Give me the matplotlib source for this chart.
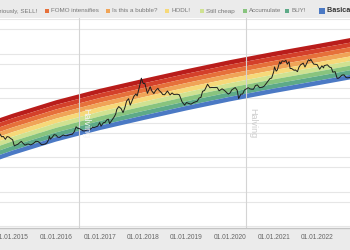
import matplotlib
matplotlib.use('Agg')
import matplotlib.pyplot as plt
import numpy as np
import matplotlib.dates as mdates
from matplotlib.patches import Rectangle
from matplotlib.ticker import FixedLocator, NullFormatter

plt.rcParams['font.family'] = ['Liberation Sans', 'DejaVu Sans']

# rainbow bands, top (red) to bottom (blue)
band_names = ['Maximum Bubble Territory', 'Sell. Seriously, SELL!', 'FOMO intensifies',
              'Is this a bubble?', 'HODL!', 'Still cheap', 'Accumulate', 'BUY!',
              'Basically a Fire Sale']
band_colors = ['#b91d1b', '#d4402a', '#e6703a', '#f0a457', '#f6d979',
               '#cfe291', '#88c47e', '#5daa88', '#4b79c4']

# outer edges of the rainbow (USD)
band_dates = np.array(['2014-09-17', '2015-01-01', '2016-01-01', '2017-01-01', '2018-01-01',
                       '2019-01-01', '2020-01-01', '2021-01-01', '2022-01-01', '2022-10-04'],
                      dtype='datetime64[D]')
band_top = [1350, 1800, 4420, 9440, 18400, 35100, 64500, 112000, 188000, 280000]
band_bottom = [85, 114, 280, 600, 1170, 2240, 4100, 7100, 11900, 17700]

# bitcoin price (USD)
price_dates = np.array([
    '2014-09-17', '2014-10-01', '2014-10-15', '2014-11-01', '2014-11-15', '2014-12-01', '2014-12-15',
    '2015-01-01', '2015-01-15', '2015-02-01', '2015-02-15', '2015-03-01', '2015-03-15', '2015-04-01',
    '2015-04-15', '2015-05-01', '2015-05-15', '2015-06-01', '2015-06-15', '2015-07-01', '2015-07-15',
    '2015-08-01', '2015-08-15', '2015-09-01', '2015-09-15', '2015-10-01', '2015-10-15', '2015-11-01',
    '2015-11-05', '2015-11-15', '2015-12-01', '2015-12-15',
    '2016-01-01', '2016-01-15', '2016-02-01', '2016-02-15', '2016-03-01', '2016-03-15', '2016-04-01',
    '2016-04-15', '2016-05-01', '2016-05-15', '2016-06-01', '2016-06-17', '2016-07-01', '2016-07-15',
    '2016-08-01', '2016-08-15', '2016-09-01', '2016-09-15', '2016-10-01', '2016-10-15', '2016-11-01',
    '2016-11-15', '2016-12-01', '2016-12-15',
    '2017-01-01', '2017-01-12', '2017-02-01', '2017-02-15', '2017-03-01', '2017-03-15', '2017-03-25',
    '2017-04-15', '2017-05-01', '2017-05-15', '2017-05-25', '2017-06-10', '2017-07-01', '2017-07-16',
    '2017-08-01', '2017-08-15', '2017-09-01', '2017-09-15', '2017-10-01', '2017-10-15', '2017-11-01',
    '2017-11-12', '2017-12-01', '2017-12-17',
    '2018-01-01', '2018-01-15', '2018-02-06', '2018-03-01', '2018-03-15', '2018-04-01', '2018-04-15',
    '2018-05-05', '2018-05-15', '2018-06-01', '2018-06-15', '2018-07-01', '2018-07-24', '2018-08-15',
    '2018-09-01', '2018-09-15', '2018-10-15', '2018-11-01', '2018-11-25', '2018-12-15',
    '2019-01-01', '2019-01-15', '2019-02-07', '2019-03-01', '2019-04-01', '2019-04-15', '2019-05-01',
    '2019-05-15', '2019-06-01', '2019-06-26', '2019-07-15', '2019-08-01', '2019-08-15', '2019-09-15',
    '2019-10-01', '2019-10-26', '2019-11-15', '2019-12-17',
    '2020-01-01', '2020-01-15', '2020-02-13', '2020-03-01', '2020-03-13', '2020-04-01', '2020-04-15',
    '2020-05-01', '2020-05-15', '2020-06-01', '2020-06-15', '2020-07-01', '2020-07-15', '2020-08-01',
    '2020-08-17', '2020-09-05', '2020-10-01', '2020-10-15', '2020-11-01', '2020-11-15', '2020-12-01',
    '2020-12-15',
    '2021-01-01', '2021-01-08', '2021-01-22', '2021-02-01', '2021-02-21', '2021-03-01', '2021-03-13',
    '2021-04-01', '2021-04-14', '2021-04-25', '2021-05-10', '2021-05-19', '2021-06-01', '2021-06-22',
    '2021-07-01', '2021-07-20', '2021-08-01', '2021-08-15', '2021-09-06', '2021-09-21', '2021-10-01',
    '2021-10-20', '2021-11-01', '2021-11-09', '2021-11-26', '2021-12-04', '2021-12-15',
    '2022-01-01', '2022-01-22', '2022-02-10', '2022-02-24', '2022-03-01', '2022-03-28', '2022-04-15',
    '2022-05-01', '2022-05-12', '2022-06-01', '2022-06-18', '2022-07-01', '2022-07-30', '2022-08-15',
    '2022-09-01', '2022-09-15', '2022-10-04'], dtype='datetime64[D]')
price_values = [
    460, 385, 395, 325, 390, 380, 345,
    315, 210, 225, 235, 260, 285, 245,
    220, 235, 237, 225, 235, 258, 285,
    282, 260, 228, 230, 238, 255, 325,
    400, 330, 378, 445,
    432, 375, 372, 405, 435, 415, 416,
    430, 450, 455, 535, 750, 675, 665,
    610, 570, 572, 607, 615, 640, 730,
    712, 753, 780,
    998, 780, 985, 1010, 1190, 1250, 930,
    1180, 1420, 1740, 2400, 2900, 2500, 1930,
    2730, 4180, 4900, 3200, 4400, 5700, 6750,
    5900, 10900, 19300,
    13500, 13600, 7000, 10900, 8200, 6900, 8350,
    9800, 8500, 7500, 6450, 6390, 8200, 6300,
    7200, 6500, 6600, 6350, 3900, 3200,
    3800, 3600, 3400, 3800, 4150, 5100, 5350,
    8000, 8550, 12900, 10200, 10400, 10300, 10300,
    8300, 9500, 8500, 6650,
    7200, 8800, 10300, 8550, 4950, 6650, 6650,
    8800, 9350, 10200, 9450, 9230, 9200, 11800,
    12300, 10200, 10600, 11500, 13700, 15900, 18800,
    19400,
    29400, 40800, 30800, 33500, 57500, 49600, 61200,
    58800, 63500, 49000, 58000, 37000, 36700, 32500,
    33500, 29800, 39900, 47000, 52700, 40600, 48200,
    66000, 61300, 67600, 53500, 49000, 48800,
    47700, 35000, 44000, 38300, 44400, 47100, 40500,
    38500, 28900, 29800, 19000, 19300, 23800, 24100,
    20100, 19700, 20300]

halving_dates = np.array(['2016-07-09', '2020-05-11'], dtype='datetime64[D]')
grid_levels = [1, 5, 10, 50, 100, 500, 1000, 5000, 10000, 50000, 100000, 500000, 1000000]

W, H = 350, 250
fig = plt.figure(figsize=(3.5, 2.5), dpi=100, facecolor='#ebebeb')
ax = fig.add_axes([0, 22 / H, 1, 210 / H])
ax.set_facecolor('white')

# rainbow: split the log range between the edges into 9 equal bands
top = np.array(band_top, dtype=float)
bot = np.array(band_bottom, dtype=float)
n = len(band_colors)
for i, col in enumerate(band_colors):
    hi = bot * (top / bot) ** ((n - i) / n)
    lo = bot * (top / bot) ** ((n - i - 1) / n)
    ax.fill_between(band_dates, lo, hi, color=col, lw=0, zorder=2)

ax.plot(price_dates, price_values, color='#1e1e1e', lw=0.7, zorder=3)

for d, tc in zip(halving_dates, ['#f4f4f4', '#cccccc']):
    ax.axvline(d, color='#d4d4d4', lw=0.8, zorder=2.5)
    ax.annotate('Halving', xy=(d, 950), xytext=(1.5, 0), textcoords='offset points',
                rotation=270, fontsize=6.5, color=tc, ha='left', va='center', zorder=4)

ax.set_yscale('log')
ax.set_ylim(0.875, 1.07e6)
ax.yaxis.set_major_locator(FixedLocator(grid_levels))
ax.yaxis.set_minor_locator(FixedLocator([]))
ax.yaxis.set_major_formatter(NullFormatter())
ax.grid(axis='y', color='#e6e6e6', lw=0.8, zorder=0)
ax.tick_params(axis='y', length=0)

ax.set_xlim(np.datetime64('2014-09-17'), np.datetime64('2022-10-04'))
ax.xaxis.set_major_locator(mdates.YearLocator())
ax.xaxis.set_major_formatter(mdates.DateFormatter('%d.%m.%Y'))
ax.tick_params(axis='x', length=0, pad=4, labelsize=4.8, labelcolor='#666666')

for s in ['left', 'right', 'top']:
    ax.spines[s].set_visible(False)
ax.spines['bottom'].set_color('#c4c4c4')
ax.spines['bottom'].set_linewidth(1)

# legend strip along the top
sq_x = [-120, -30, 45, 106, 165, 200, 243, 285, 319]
for i, (name, col) in enumerate(zip(band_names, band_colors)):
    last = i == n - 1
    size = 6 if last else 4
    fig.patches.append(Rectangle((sq_x[i] / W, 1 - (11 + size / 2) / H), size / W, size / H,
                                 transform=fig.transFigure, color=col, lw=0))
    if i == 1:
        fig.text(37 / W, 1 - 11 / H, name, ha='right', va='center', fontsize=4.5, color='#777777')
    else:
        fig.text((sq_x[i] + size + 2) / W, 1 - 11 / H, name, ha='left', va='center',
                 fontsize=5.2 if last else 4.5, color='#333333' if last else '#777777',
                 fontweight='bold' if last else 'normal')

fig.savefig('out.png', dpi=100, facecolor=fig.get_facecolor())
